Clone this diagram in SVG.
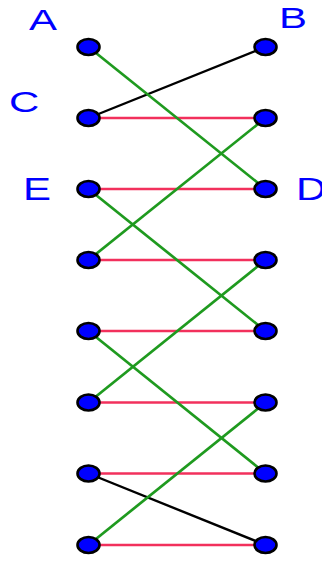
<svg xmlns="http://www.w3.org/2000/svg" width="322" height="563" viewBox="0 0 322 563">
<style>
.lbl{font-family:"Liberation Sans",Arial,sans-serif;font-size:30px;fill:#0000ff}
.node{fill:#0000ff;stroke:#000;stroke-width:2.6}
.g{stroke:#1f9a1f;stroke-width:2.7;fill:none}
.r{stroke:#f2305c;stroke-width:2.7;fill:none}
.k{stroke:#000;stroke-width:2.4;fill:none}
</style>
<rect width="322" height="563" fill="#fff"/>
<g id="connectors">
<line class="r" x1="88.5" y1="118" x2="265.5" y2="118"/>
<line class="r" x1="88.5" y1="189" x2="265.5" y2="189"/>
<line class="r" x1="88.5" y1="260" x2="265.5" y2="260"/>
<line class="r" x1="88.5" y1="331" x2="265.5" y2="331"/>
<line class="r" x1="88.5" y1="402.5" x2="265.5" y2="402.5"/>
<line class="r" x1="88.5" y1="473.5" x2="265.5" y2="473.5"/>
<line class="r" x1="88.5" y1="545" x2="265.5" y2="545"/>
<line class="k" x1="265.5" y1="47" x2="88.5" y2="118"/>
<line class="k" x1="88.5" y1="473.5" x2="265.5" y2="545"/>
<line class="g" x1="88.5" y1="47" x2="265.5" y2="189"/>
<line class="g" x1="265.5" y1="118" x2="88.5" y2="260"/>
<line class="g" x1="88.5" y1="189" x2="265.5" y2="331"/>
<line class="g" x1="265.5" y1="260" x2="88.5" y2="402.5"/>
<line class="g" x1="88.5" y1="331" x2="265.5" y2="473.5"/>
<line class="g" x1="265.5" y1="402.5" x2="88.5" y2="545"/>
</g>
<g id="nodes">
<g id="nA"><ellipse class="node" cx="88.5" cy="47" rx="11" ry="8"/></g>
<g id="nB"><ellipse class="node" cx="265.5" cy="47" rx="11" ry="8"/></g>
<g id="nC"><ellipse class="node" cx="88.5" cy="118" rx="11" ry="8"/></g>
<g id="nR1"><ellipse class="node" cx="265.5" cy="118" rx="11" ry="8"/></g>
<g id="nE"><ellipse class="node" cx="88.5" cy="189" rx="11" ry="8"/></g>
<g id="nD"><ellipse class="node" cx="265.5" cy="189" rx="11" ry="8"/></g>
<g id="nL3"><ellipse class="node" cx="88.5" cy="260" rx="11" ry="8"/></g>
<g id="nR3"><ellipse class="node" cx="265.5" cy="260" rx="11" ry="8"/></g>
<g id="nL4"><ellipse class="node" cx="88.5" cy="331" rx="11" ry="8"/></g>
<g id="nR4"><ellipse class="node" cx="265.5" cy="331" rx="11" ry="8"/></g>
<g id="nL5"><ellipse class="node" cx="88.5" cy="402.5" rx="11" ry="8"/></g>
<g id="nR5"><ellipse class="node" cx="265.5" cy="402.5" rx="11" ry="8"/></g>
<g id="nL6"><ellipse class="node" cx="88.5" cy="473.5" rx="11" ry="8"/></g>
<g id="nR6"><ellipse class="node" cx="265.5" cy="473.5" rx="11" ry="8"/></g>
<g id="nL7"><ellipse class="node" cx="88.5" cy="545" rx="11" ry="8"/></g>
<g id="nR7"><ellipse class="node" cx="265.5" cy="545" rx="11" ry="8"/></g>
</g>
<g id="labels">
<text class="lbl" transform="translate(29,30) scale(1.4,1)">A</text>
<text class="lbl" transform="translate(279,28) scale(1.4,1)">B</text>
<text class="lbl" transform="translate(9,112) scale(1.4,1)">C</text>
<text class="lbl" transform="translate(23,200) scale(1.4,1.05)">E</text>
<text class="lbl" transform="translate(296,200) scale(1.4,1.03)">D</text>
</g>
</svg>
